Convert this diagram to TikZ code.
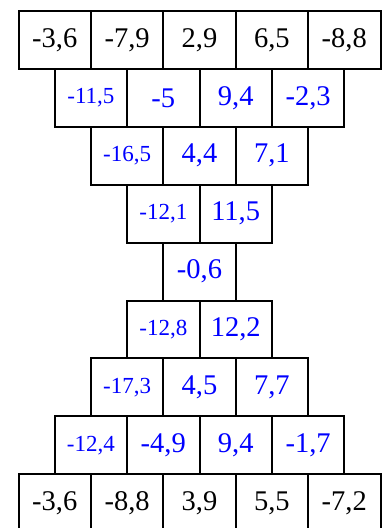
\documentclass[tikz,border=0pt]{standalone}
\usepackage{fontspec}
\setmainfont{Liberation Serif}
\begin{document}
\begin{tikzpicture}[x=1pt,y=-1pt,
  cell/.style={draw, line width=2pt, minimum width=72.4pt, minimum height=57.9pt,
    inner sep=0pt, outer sep=0pt, font=\fontsize{28.5}{30}\selectfont},
  bl/.style={cell, text=blue},
  sm/.style={cell, text=blue, font=\fontsize{23}{25}\selectfont}]
\useasboundingbox (0,0) rectangle (381,528);
% row 0
\node[cell] (a1) at (54.7,39.95) {-3,6};
\node[cell] (a2) at (127.1,39.95) {-7,9};
\node[cell] (a3) at (199.5,39.95) {2,9};
\node[cell] (a4) at (271.9,39.95) {6,5};
\node[cell] (a5) at (344.3,39.95) {-8,8};
% row 1
\node[sm] (b1) at (90.9,97.85) {-11,5};
\node[bl] (b2) at (163.3,97.85) {-5};
\node[bl] (b3) at (235.7,97.85) {9,4};
\node[bl] (b4) at (308.1,97.85) {-2,3};
% row 2
\node[sm] (c1) at (127.1,155.75) {-16,5};
\node[bl] (c2) at (199.5,155.75) {4,4};
\node[bl] (c3) at (271.9,155.75) {7,1};
% row 3
\node[sm] (d1) at (163.3,213.65) {-12,1};
\node[bl] (d2) at (235.7,213.65) {11,5};
% row 4
\node[bl] (e1) at (199.5,271.55) {-0,6};
% row 5
\node[sm] (f1) at (163.3,329.45) {-12,8};
\node[bl] (f2) at (235.7,329.45) {12,2};
% row 6
\node[sm] (g1) at (127.1,387.35) {-17,3};
\node[bl] (g2) at (199.5,387.35) {4,5};
\node[bl] (g3) at (271.9,387.35) {7,7};
% row 7
\node[sm] (h1) at (90.9,445.25) {-12,4};
\node[bl] (h2) at (163.3,445.25) {-4,9};
\node[bl] (h3) at (235.7,445.25) {9,4};
\node[bl] (h4) at (308.1,445.25) {-1,7};
% row 8
\node[cell] (i1) at (54.7,503.15) {-3,6};
\node[cell] (i2) at (127.1,503.15) {-8,8};
\node[cell] (i3) at (199.5,503.15) {3,9};
\node[cell] (i4) at (271.9,503.15) {5,5};
\node[cell] (i5) at (344.3,503.15) {-7,2};
\end{tikzpicture}
\end{document}
